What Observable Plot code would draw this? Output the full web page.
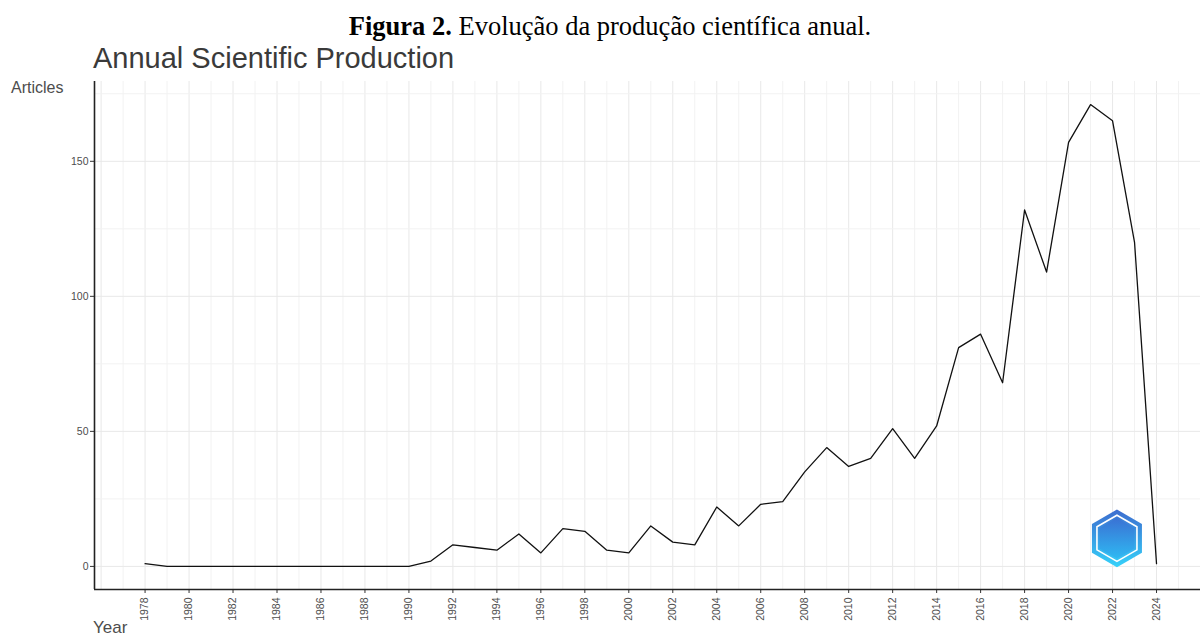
<!DOCTYPE html>
<html>
<head>
<meta charset="utf-8">
<script src="https://cdn.jsdelivr.net/npm/d3@7"></script>
<script src="https://cdn.jsdelivr.net/npm/@observablehq/plot@0.6"></script>
<style>
  html, body { margin: 0; padding: 0; background: white; }
  #wrap { position: relative; width: 1200px; height: 637px; background: white; overflow: hidden; }
  #chart { position: absolute; left: 0; top: 75px; }
  .lbl { position: absolute; white-space: nowrap; }
</style>
</head>
<body>
<div id="wrap">
  <div id="chart"></div>
  <div class="lbl" style="left:0;width:1220px;text-align:center;top:12.8px;font-family:'Liberation Serif','Times New Roman',serif;font-size:26.5px;line-height:26.5px;color:#000;"><b>Figura 2.</b> Evolução da produção científica anual.</div>
  <div class="lbl" style="left:93px;top:43.5px;font-family:'Liberation Sans',Arial,sans-serif;font-size:29px;line-height:29px;color:#3a3a3a;">Annual Scientific Production</div>
  <div class="lbl" style="left:11px;top:79.5px;font-family:'Liberation Sans',Arial,sans-serif;font-size:16px;line-height:16px;color:#4d4d4d;">Articles</div>
  <div class="lbl" style="left:93px;top:619px;font-family:'Liberation Sans',Arial,sans-serif;font-size:17px;line-height:17px;color:#4d4d4d;">Year</div>
</div>
<script>
// ---- data ----
const years = [1978, 1979, 1980, 1981, 1982, 1983, 1984, 1985, 1986, 1987, 1988, 1989, 1990,
  1991, 1992, 1993, 1994, 1995, 1996, 1997, 1998, 1999, 2000,
  2001, 2002, 2003, 2004, 2005, 2006, 2007, 2008, 2009, 2010,
  2011, 2012, 2013, 2014, 2015, 2016, 2017, 2018, 2019, 2020,
  2021, 2022, 2023, 2024];
const articles = [1, 0, 0, 0, 0, 0, 0, 0, 0, 0, 0, 0, 0,
  2, 8, 7, 6, 12, 5, 14, 13, 6, 5,
  15, 9, 8, 22, 15, 23, 24, 35, 44, 37,
  40, 51, 40, 52, 81, 86, 68, 132, 109, 157,
  171, 165, 120, 1];
const xTickLabels = [1978, 1980, 1982, 1984, 1986, 1988, 1990, 1992, 1994, 1996, 1998, 2000,
  2002, 2004, 2006, 2008, 2010, 2012, 2014, 2016, 2018, 2020, 2022, 2024];
const yTickLabels = [0, 50, 100, 150];
const xMajorGrid = [1976, 1978, 1980, 1982, 1984, 1986, 1988, 1990, 1992, 1994, 1996, 1998, 2000,
  2002, 2004, 2006, 2008, 2010, 2012, 2014, 2016, 2018, 2020, 2022, 2024, 2026];
const xMinorGrid = [1977, 1979, 1981, 1983, 1985, 1987, 1989, 1991, 1993, 1995, 1997, 1999,
  2001, 2003, 2005, 2007, 2009, 2011, 2013, 2015, 2017, 2019, 2021, 2023, 2025];
const yMajorGrid = [0, 50, 100, 150];
const yMinorGrid = [25, 75, 125, 175];
const logoPos = [{year: 2022.2, value: 10.4}];

const table = years.map((y, i) => ({year: y, value: articles[i]}));
const xDomain = [1975.7, 2026];
const yDomain = [-8.55, 179.55];

const svg = Plot.plot({
  width: 1200,
  height: 562,
  marginLeft: 94,
  marginRight: 0,
  marginTop: 6,
  marginBottom: 48,
  style: { fontFamily: "'Liberation Sans', Arial, sans-serif", background: "white" },
  x: { domain: xDomain, label: null },
  y: { domain: yDomain, label: null },
  marks: [
    Plot.gridX(xMinorGrid, { stroke: "#f2f2f2", strokeOpacity: 1, strokeWidth: 1 }),
    Plot.gridX(xMajorGrid, { stroke: "#e8e8e8", strokeOpacity: 1, strokeWidth: 1 }),
    Plot.gridY(yMinorGrid, { stroke: "#f2f2f2", strokeOpacity: 1, strokeWidth: 1 }),
    Plot.gridY(yMajorGrid, { stroke: "#e8e8e8", strokeOpacity: 1, strokeWidth: 1 }),
    Plot.axisX(xTickLabels, {
      tickRotate: -90, tickFormat: d => String(d), tickSize: 4, tickPadding: 4,
      fontSize: 10.5, fill: "#4d4d4d", stroke: "#333", label: null
    }),
    Plot.axisY(yTickLabels, {
      tickSize: 4, tickPadding: 2, fontSize: 10.5, fill: "#4d4d4d", stroke: "#333", label: null
    }),
    Plot.ruleX([xDomain[0]], { stroke: "#222", strokeWidth: 1.6 }),
    Plot.ruleY([yDomain[0]], { stroke: "#222", strokeWidth: 1.6 }),
    Plot.line(table, { x: "year", y: "value", stroke: "#111", strokeWidth: 1.3 }),
    Plot.dot(logoPos, { x: "year", y: "value", symbol: "hexagon", r: 25, fill: "url(#logoGrad)", stroke: "none" }),
    Plot.dot(logoPos, { x: "year", y: "value", symbol: "hexagon", r: 20, fill: "none", stroke: "white", strokeWidth: 1.6 }),
    Plot.dot(logoPos, { x: "year", y: "value", symbol: "hexagon", r: 17.5, fill: "url(#logoGrad2)", stroke: "none" })
  ]
});

d3.select(svg).insert("defs", ":first-child").html(`
  <linearGradient id="logoGrad" x1="0" y1="0" x2="0" y2="1">
    <stop offset="0" stop-color="#3d6ccf"/>
    <stop offset="1" stop-color="#35d2fa"/>
  </linearGradient>
  <linearGradient id="logoGrad2" x1="0" y1="0" x2="0" y2="1">
    <stop offset="0" stop-color="#3a72d4"/>
    <stop offset="1" stop-color="#2fb8f2"/>
  </linearGradient>`);

document.getElementById("chart").appendChild(svg);
</script>
</body>
</html>
